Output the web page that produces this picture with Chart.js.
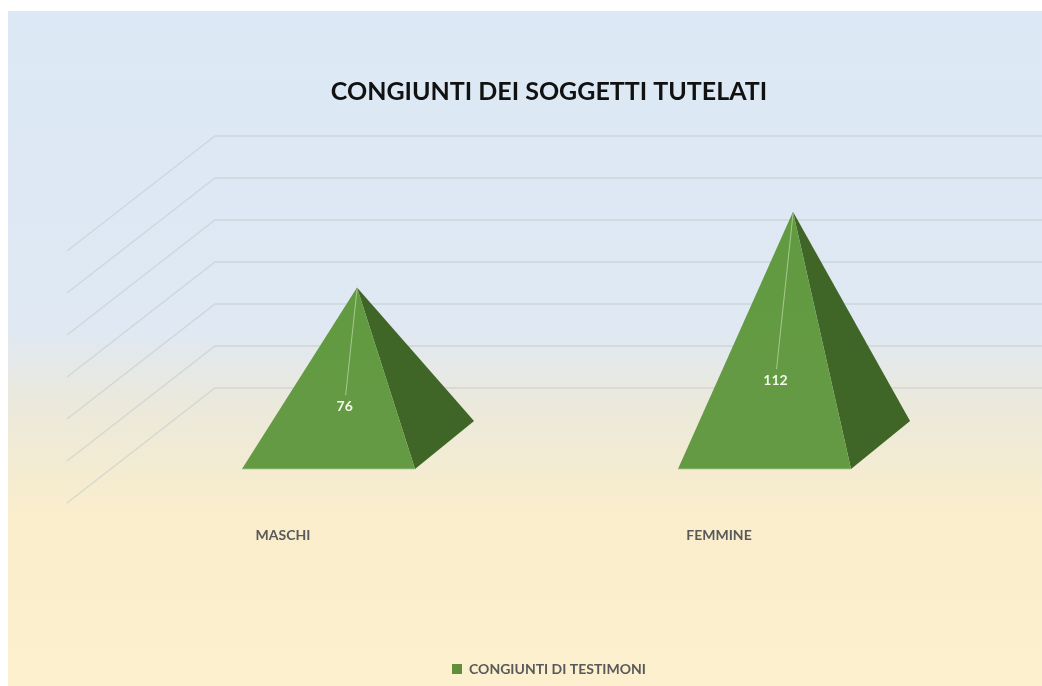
<!DOCTYPE html>
<html><head><meta charset="utf-8">
<style>html,body{margin:0;padding:0;background:#fff;overflow:hidden}canvas{display:block}</style>
<script src="https://cdn.jsdelivr.net/npm/chart.js@4"></script>
</head><body>
<div style="width:1042px;height:686px;position:relative"><canvas id="c"></canvas></div>
<script>
const categories = ['MASCHI', 'FEMMINE'];
const seriesName = 'CONGIUNTI DI TESTIMONI';
const values = [76, 112];
const titleText = 'CONGIUNTI DEI SOGGETTI TUTELATI';

const FONT = 'Lato, "Open Sans", sans-serif';
const TEXT = '#595959';
const GRID = 'rgba(196,203,205,0.62)';
// oblique projection of the depth axis
const WALL_DX = 150, WALL_DY = -117;
const MID_DX = 75, MID_DY = -60;      // centre of the pyramids' base on the floor
const FRONT_DX = 45.5, FRONT_DY = -36;

const backdrop = {
  id: 'backdrop',
  beforeDraw(chart) {
    const { ctx, width, height } = chart;
    const g = ctx.createLinearGradient(0, 11, 0, height);
    g.addColorStop(0, '#dde8f6');
    g.addColorStop(0.47, '#dfe8f3');
    g.addColorStop(0.58, '#ebe9dc');
    g.addColorStop(0.74, '#f9edcc');
    g.addColorStop(1, '#fdf0cf');
    ctx.save();
    ctx.fillStyle = g;
    ctx.fillRect(8, 11, width - 8, height - 11);
    ctx.restore();
  }
};

const pyramids = {
  id: 'pyramids',
  beforeDatasetsDraw(chart) {
    const { ctx, chartArea, scales } = chart;
    ctx.save();
    ctx.strokeStyle = GRID;
    ctx.lineWidth = 1.3;
    scales.y.ticks.forEach(t => {
      const y = scales.y.getPixelForValue(t.value);
      ctx.beginPath();
      ctx.moveTo(chartArea.left + 2, y - 2);
      ctx.lineTo(chartArea.left + WALL_DX, y + WALL_DY);
      ctx.lineTo(chart.width, y + WALL_DY);
      ctx.stroke();
    });
    ctx.restore();
  },
  beforeDatasetDraw() { return false; },
  afterDatasetsDraw(chart) {
    const { ctx, scales } = chart;
    const meta = chart.getDatasetMeta(0);
    const zero = scales.y.getPixelForValue(0);
    ctx.save();
    meta.data.forEach((bar, i) => {
      const half = bar.width / 2;
      const v = values[i];
      const fc = bar.x + FRONT_DX;
      const baseY = zero + FRONT_DY;
      const apexX = bar.x + MID_DX - 1;
      const apexY = scales.y.getPixelForValue(v) + MID_DY + 2;
      const fl = fc - half, fr = fc + half;
      const brX = fr + 59, brY = baseY - 48;

      ctx.fillStyle = '#3f6626';
      ctx.beginPath();
      ctx.moveTo(fr, baseY); ctx.lineTo(brX, brY); ctx.lineTo(apexX, apexY);
      ctx.closePath(); ctx.fill();

      const g = ctx.createLinearGradient(0, apexY, 0, baseY);
      g.addColorStop(0, '#619a40');
      g.addColorStop(1, '#659a45');
      ctx.fillStyle = g;
      ctx.beginPath();
      ctx.moveTo(fl, baseY); ctx.lineTo(fr, baseY); ctx.lineTo(apexX, apexY);
      ctx.closePath(); ctx.fill();

      ctx.strokeStyle = 'rgba(170,205,140,0.8)';
      ctx.lineWidth = 1;
      ctx.beginPath();
      ctx.moveTo(fl, baseY); ctx.lineTo(fr, baseY); ctx.stroke();

      const h = baseY - apexY;
      const lx = apexX - 0.068 * h, ly = apexY + 0.655 * h;
      ctx.strokeStyle = 'rgba(190,215,170,0.75)';
      ctx.lineWidth = 1;
      ctx.beginPath();
      ctx.moveTo(apexX, apexY + 2); ctx.lineTo(lx + 1, ly - 11); ctx.stroke();

      ctx.fillStyle = '#f2f8ea';
      ctx.font = 'bold 14px ' + FONT;
      ctx.textAlign = 'center';
      ctx.textBaseline = 'middle';
      ctx.fillText(String(v), lx, ly);
    });
    ctx.restore();
  }
};

new Chart(document.getElementById('c'), {
  type: 'bar',
  data: {
    labels: categories,
    datasets: [{ label: seriesName, data: values, backgroundColor: '#5f8f3a',
      barPercentage: 0.397, categoryPercentage: 1 }]
  },
  options: {
    responsive: true, maintainAspectRatio: false, animation: false,
    layout: { padding: { left: 56, right: 0, top: 0, bottom: 0 } },
    plugins: {
      tooltip: { enabled: false },
      title: { display: true, text: titleText, color: '#111',
        font: { family: FONT, size: 25, weight: 'bold' },
        padding: { top: 77, bottom: 146 } },
      legend: { position: 'bottom',
        labels: { color: TEXT, boxWidth: 10, boxHeight: 10, padding: 10,
          font: { family: FONT, size: 14, weight: 'bold' } } }
    },
    scales: {
      x: {
        grid: { display: false }, border: { display: false },
        afterFit(s) { s.height = 147; },
        ticks: { color: TEXT, padding: 14, maxRotation: 0,
          font: { family: FONT, size: 14, weight: 'bold' } }
      },
      y: {
        min: 0, max: 120,
        grid: { display: false }, border: { display: false },
        afterFit(s) { s.width = 9; },
        ticks: { stepSize: 20, color: TEXT, padding: 13,
          font: { family: FONT, size: 14, weight: 'bold' } }
      },
      spacer: {
        position: 'right', display: true,
        grid: { display: false }, border: { display: false },
        ticks: { display: false },
        afterFit(s) { s.width = 105; }
      }
    }
  },
  plugins: [backdrop, pyramids]
});
</script>
</body></html>
